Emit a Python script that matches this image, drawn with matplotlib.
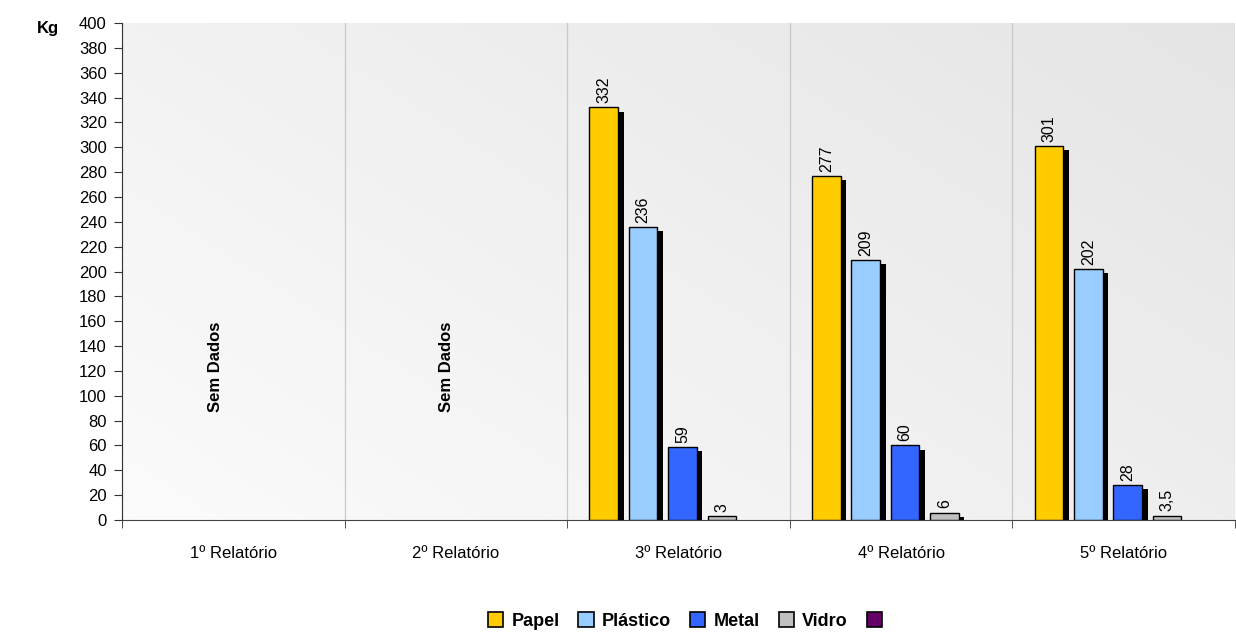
import matplotlib
matplotlib.use("Agg")
import matplotlib.pyplot as plt
import matplotlib.patheffects as pe
import numpy as np
from matplotlib.patches import Patch

plt.rcParams['font.family'] = ['Liberation Sans', 'DejaVu Sans']

categories = ["1º Relatório", "2º Relatório", "3º Relatório", "4º Relatório", "5º Relatório"]
series_names = ["Papel", "Plástico", "Metal", "Vidro", ""]
papel = [np.nan, np.nan, 332, 277, 301]
plastico = [np.nan, np.nan, 236, 209, 202]
metal = [np.nan, np.nan, 59, 60, 28]
vidro = [np.nan, np.nan, 3, 6, 3.5]
outro = [np.nan, np.nan, np.nan, np.nan, np.nan]
value_labels = {
    "Papel": ["", "", "332", "277", "301"],
    "Plástico": ["", "", "236", "209", "202"],
    "Metal": ["", "", "59", "60", "28"],
    "Vidro": ["", "", "3", "6", "3,5"],
    "": ["", "", "", "", ""],
}
colors = ["#FFCC00", "#99CCFF", "#3366FF", "#C0C0C0", "#660066"]
series = [papel, plastico, metal, vidro, outro]

fig = plt.figure(figsize=(12.36, 6.34), dpi=100)
ax = fig.add_axes([122/1236, 1-520/634, (1235-122)/1236, (520-23)/634])

# gradient background
gx, gy = np.meshgrid(np.linspace(0, 1, 300), np.linspace(0, 1, 200))
g = 0.985 - 0.08 * np.clip(0.65 * gx + 0.45 * gy, 0, 1.2)
ax.imshow(np.dstack([g, g, g]), extent=[0, 1, 0, 1], transform=ax.transAxes,
          aspect='auto', zorder=0, origin='lower', interpolation='bilinear')

x = np.arange(len(categories))
width = 0.128
step = 0.177
offsets = (np.arange(5) - 2) * step + 0.018

for i, (name, vals, c) in enumerate(zip(series_names, series, colors)):
    vals_arr = np.array(vals, dtype=float)
    bars = ax.bar(x + offsets[i], vals_arr, width=width, color=c, edgecolor='black',
                  linewidth=1.0, zorder=3)
    for b in bars:
        b.set_path_effects([pe.SimplePatchShadow(offset=(4, -3), shadow_rgbFace='black', alpha=1.0),
                            pe.Normal()])
    for xi, v, lab in zip(x, vals_arr, value_labels[name]):
        if lab and not np.isnan(v):
            ax.annotate(lab, (xi + offsets[i], v), xytext=(0, 3), textcoords='offset points',
                        rotation=90, ha='center', va='bottom', fontsize=11.5, zorder=4)

# Sem Dados labels
ax.text(-0.082, 123.5, "Sem Dados", rotation=90, ha='center', va='center',
        fontsize=12, fontweight='bold', zorder=4)
ax.text(0.96, 123.5, "Sem Dados", rotation=90, ha='center', va='center',
        fontsize=12, fontweight='bold', zorder=4)

ax.set_xlim(-0.5, 4.5)
ax.set_ylim(0, 400)
ax.set_yticks(np.arange(0, 401, 20))
ax.tick_params(axis='y', labelsize=12, length=6, color='#333333', pad=5)
ax.set_xticks(x)
ax.set_xticklabels(categories, fontsize=12)
ax.tick_params(axis='x', which='major', length=0, pad=19)
ax.set_xticks(np.arange(-0.5, 5, 1), minor=True)
ax.tick_params(axis='x', which='minor', length=6, color='#333333')
ax.grid(True, axis='x', which='minor', color='#c8c8c8', linewidth=0.9, zorder=1)
ax.grid(False, axis='x', which='major')
ax.grid(False, axis='y')
ax.set_axisbelow(True)
for s in ['top', 'right']:
    ax.spines[s].set_visible(False)
ax.spines['left'].set_color('#333333')
ax.spines['bottom'].set_color('#444444')
ax.spines['left'].set_zorder(5)

fig.text(48/1236, 1-29/634, "Kg", fontsize=12, fontweight='bold', ha='center', va='center')

handles = [Patch(facecolor=c, edgecolor='black', linewidth=1.2) for c in colors]
fig.legend(handles, series_names, loc='center', bbox_to_anchor=(689/1236, 1-621/634),
           ncol=5, frameon=False, prop={'weight': 'bold', 'size': 13},
           handlelength=0.85, handleheight=0.85, handletextpad=0.45, columnspacing=1.05)

fig.savefig("out.png", dpi=100)
